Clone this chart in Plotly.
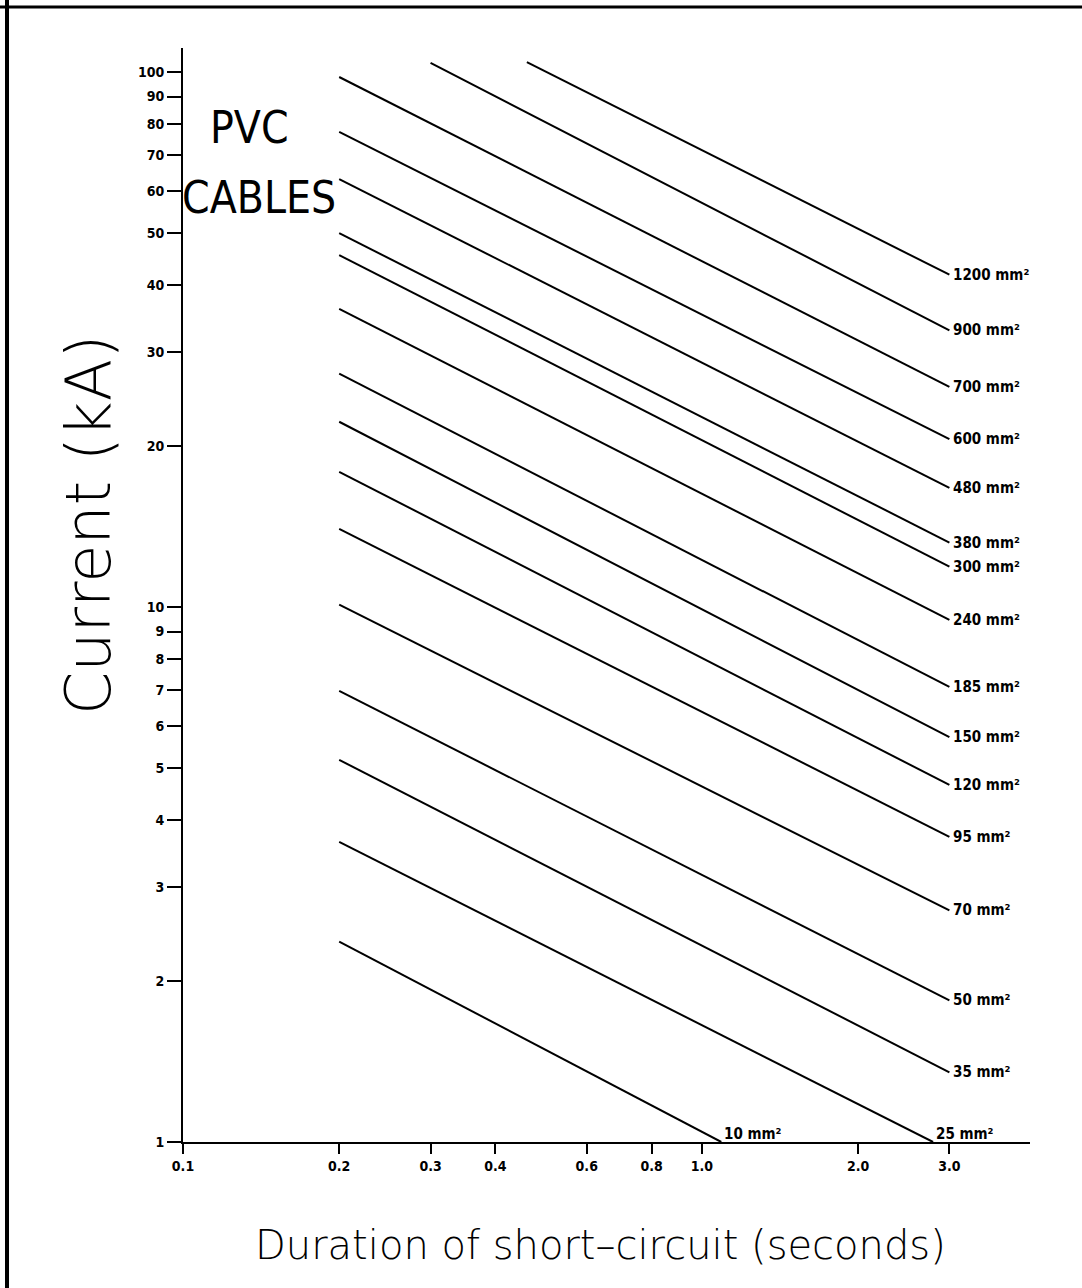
import math
import plotly.graph_objects as go

# Cable cross-sections (mm²) and the end points of each withstand line
sizes = ["1200", "900", "700", "600", "480", "380", "300", "240", "185",
         "150", "120", "95", "70", "50", "35", "25", "10"]
t_start = [0.46, 0.30, 0.2, 0.2, 0.2, 0.2, 0.2, 0.2, 0.2,
           0.2, 0.2, 0.2, 0.2, 0.2, 0.2, 0.2, 0.2]
i_start = [104.4, 104.0, 97.9, 77.3, 63.1, 50.0, 45.5, 36.1, 27.3,
           22.2, 17.9, 14.0, 10.1, 6.97, 5.18, 3.64, 2.37]
t_end = [3.0, 3.0, 3.0, 3.0, 3.0, 3.0, 3.0, 3.0, 3.0,
         3.0, 3.0, 3.0, 3.0, 3.0, 3.0, 2.79, 1.09]
i_end = [41.8, 32.9, 25.8, 20.6, 16.7, 13.2, 11.9, 9.46, 7.09,
         5.71, 4.65, 3.72, 2.71, 1.84, 1.35, 1.0, 1.0]

x_ticks = [0.1, 0.2, 0.3, 0.4, 0.6, 0.8, 1.0, 2.0, 3.0]
x_ticktext = ["0.1", "0.2", "0.3", "0.4", "0.6", "0.8", "1.0", "2.0", "3.0"]
y_ticks = [1, 2, 3, 4, 5, 6, 7, 8, 9, 10, 20, 30, 40, 50, 60, 70, 80, 90, 100]
y_ticktext = [str(v) for v in y_ticks]

# Page geometry
W, H = 1082, 1288
ML, MR, MT, MB = 183, 52, 48, 146
PW, PH = W - ML - MR, H - MT - MB


def px_x(p):
    return (p - ML) / PW


def px_y(p):
    return (H - MB - p) / PH


SMALL_FONT = "DejaVu Sans Condensed, DejaVu Sans"
TITLE_FONT = "DejaVu Sans"

fig = go.Figure()
for s, t0, i0, t1, i1 in zip(sizes, t_start, i_start, t_end, i_end):
    fig.add_trace(go.Scatter(
        x=[t0, t1], y=[i0, i1], mode="lines",
        line=dict(color="black", width=2),
        showlegend=False, hoverinfo="skip", cliponaxis=False,
    ))

annotations = []
for s, t1, i1 in zip(sizes, t_end, i_end):
    on_axis = i1 <= 1.0
    annotations.append(dict(
        x=math.log10(t1), y=math.log10(i1), xref="x", yref="y",
        text=f"{s} mm²", showarrow=False,
        xanchor="left", yanchor="bottom" if on_axis else "middle",
        xshift=1 if on_axis else 2, yshift=-3 if on_axis else 0,
        font=dict(family=SMALL_FONT, size=15, color="black", weight="bold"),
    ))

# Panel heading
heading_font = dict(family=SMALL_FONT, size=44, color="black", weight=200)
annotations.append(dict(
    x=px_x(249), y=px_y(128), xref="paper", yref="paper", text="PVC",
    showarrow=False, xanchor="center", yanchor="middle", font=heading_font))
annotations.append(dict(
    x=px_x(259), y=px_y(197), xref="paper", yref="paper", text="CABLES",
    showarrow=False, xanchor="center", yanchor="middle", font=heading_font))

# Axis titles
annotations.append(dict(
    x=px_x(88), y=px_y(525), xref="paper", yref="paper", text="Current (kA)",
    showarrow=False, textangle=-90, xanchor="center", yanchor="middle",
    font=dict(family=TITLE_FONT, size=62, color="black", weight=200)))
annotations.append(dict(
    x=px_x(600), y=px_y(1245), xref="paper", yref="paper",
    text="Duration of short\u2013circuit (seconds)",
    showarrow=False, xanchor="center", yanchor="middle",
    font=dict(family=TITLE_FONT, size=40, color="black", weight=200)))

# Sheet frame along the top and left edges
shapes = [
    dict(type="line", xref="paper", yref="paper",
         x0=px_x(0), x1=px_x(W), y0=px_y(7), y1=px_y(7),
         line=dict(color="black", width=3)),
    dict(type="line", xref="paper", yref="paper",
         x0=px_x(7), x1=px_x(7), y0=px_y(0), y1=px_y(H),
         line=dict(color="black", width=4)),
]

tick_font = dict(family=SMALL_FONT, size=14, color="black", weight="bold")

fig.update_layout(
    width=W, height=H,
    margin=dict(l=ML, r=MR, t=MT, b=MB, pad=0),
    paper_bgcolor="white", plot_bgcolor="white",
    annotations=annotations, shapes=shapes,
    xaxis=dict(
        type="log", range=[-1, math.log10(4.29)],
        tickmode="array", tickvals=x_ticks, ticktext=x_ticktext,
        ticks="outside", ticklen=10, tickwidth=2, tickcolor="black",
        showline=True, linecolor="black", linewidth=2,
        showgrid=False, zeroline=False, tickfont=tick_font,
    ),
    yaxis=dict(
        type="log", range=[0, 2.045],
        tickmode="array", tickvals=y_ticks, ticktext=y_ticktext,
        ticks="outside", ticklen=14, tickwidth=2, tickcolor="black",
        showline=True, linecolor="black", linewidth=2,
        showgrid=False, zeroline=False, tickfont=tick_font,
    ),
)

fig.write_html("out.html")
